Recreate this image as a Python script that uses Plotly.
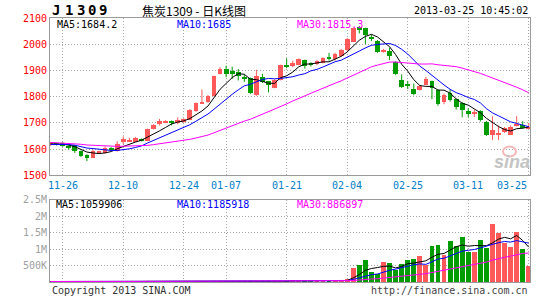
import plotly.graph_objects as go
import pandas as pd

# ---------------- data ----------------
dates = ["11-22","11-23","11-26","11-27","11-28","11-29","11-30",
         "12-03","12-04","12-05","12-06","12-07","12-10","12-11","12-12","12-13","12-14",
         "12-17","12-18","12-19","12-20","12-21","12-24","12-25","12-26","12-27","12-28","12-31",
         "01-04","01-07","01-08","01-09","01-10","01-11","01-14","01-15","01-16","01-17","01-18",
         "01-21","01-22","01-23","01-24","01-25","01-28","01-29","01-30","01-31","02-01",
         "02-04","02-05","02-06","02-07","02-08","02-18","02-19","02-20","02-21","02-22",
         "02-25","02-26","02-27","02-28","03-01",
         "03-04","03-05","03-06","03-07","03-08","03-11","03-12","03-13","03-14","03-15",
         "03-18","03-19","03-20","03-21","03-22","03-25"]

opens = [1615,1620,1624,1611,1614,1592,1578,1567,1588,1584, 1605,1593,1626,1629,1628,1638,1632,1677,1696,1702,
         1707,1700,1704,1712,1744,1776,1778,1803,1887,1905, 1897,1895,1876,1871,1808,1874,1858,1834,1864,1920,
         1920,1922,1939,1926,1925,1929,1950,1945,1954,1976, 2010,2065,2060,2029,2014,1972,1975,1931,1862,1847,
         1828,1825,1846,1859,1824,1781,1815,1790,1777,1745, 1736,1746,1705,1652,1655,1665,1655,1690,1692,1678]
highs = [1627,1622,1626,1614,1616,1594,1580,1597,1593,1610, 1607,1630,1648,1643,1646,1640,1678,1695,1715,1710,
         1709,1721,1717,1752,1778,1827,1806,1880,1912,1918, 1914,1905,1884,1873,1902,1887,1860,1866,1922,1946,
         1937,1946,1941,1931,1939,1950,1967,1967,1982,2023, 2063,2070,2063,2037,2016,1982,1987,1935,1885,1860,
         1850,1845,1875,1861,1826,1812,1827,1792,1779,1755, 1750,1748,1707,1725,1690,1684,1690,1725,1706,1700]
lows = [1612,1613,1608,1598,1585,1570,1554,1565,1586,1582, 1594,1590,1618,1627,1626,1629,1630,1675,1690,1700,
        1690,1694,1700,1710,1742,1774,1776,1801,1885,1874, 1868,1862,1856,1810,1803,1852,1816,1832,1862,1908,
        1912,1920,1907,1915,1920,1927,1937,1937,1952,1974, 2008,2041,2000,2012,1967,1968,1940,1883,1833,1829,
        1805,1823,1844,1790,1765,1771,1781,1750,1721,1721, 1722,1705,1650,1634,1634,1661,1653,1686,1678,1676]
closes = [1623,1616,1611,1603,1591,1572,1565,1594,1590,1605, 1597,1618,1638,1636,1643,1631,1675,1692,1706,1708,
          1699,1709,1714,1750,1775,1778,1803,1878,1905,1887, 1890,1878,1866,1812,1878,1856,1843,1864,1920,1914,
          1927,1944,1916,1921,1935,1947,1945,1962,1979,2020, 2060,2054,2035,2020,1969,1974,1954,1885,1835,1839,
          1810,1842,1869,1834,1771,1806,1787,1759,1750,1735, 1738,1711,1652,1671,1657,1680,1684,1696,1680,1682]
# closes before the first visible session (needed for the moving averages)
prior_closes = [1645,1650,1640,1632,1638,1645,1642,1635,1640,1628,
                1622,1618,1625,1630,1620,1612,1608,1615,1622,1618,
                1610,1605,1612,1620,1625,1618,1615,1620,1622]
volume_k = [15,12,18,20,25,22,28,20,15,18, 14,20,25,18,16,15,30,22,20,15,
            18,16,14,20,22,18,20,35,25,22, 20,18,16,30,28,20,25,30,22,45,
            55,30,25,20,50,35,30,25,45,100, 430,530,670,320,250,610,580,380,550,670,
            700,780,530,1090,1120,830,1240,1090,1360,930, 930,1280,1030,1780,1510,1200,1060,1540,1000,500]

tick_dates = ["11-26","12-10","12-24","01-07","01-21","02-04","02-25","03-11","03-25"]
price_ticks = [1500,1600,1700,1800,1900,2000,2100]
vol_tickvals = [500000,1000000,1500000,2000000,2500000]
vol_ticktext = ["500K","1M","1.5M","2M","2.5M"]

title_code = "J1309"
title_name = "焦炭1309 - 日K线图"
timestamp = "2013-03-25 10:45:02"
price_ma_text = ["MA5:1684.2", "MA10:1685", "MA30:1815.3"]
vol_ma_text = ["MA5:1059906", "MA10:1185918", "MA30:886897"]
footer_left = "Copyright 2013 SINA.COM"
footer_right = "http://finance.sina.com.cn"

# ---------------- styling ----------------
W, H = 545, 300
L, R, T, B = 50, 530, 18, 285
RED, GREEN = "#ff5959", "#009c00"
MA_COLORS = ["#000000", "#0000ff", "#ff00ff"]
GRID = "#a8a8a8"
FRAME = "#9a9a9a"
MONO = "DejaVu Sans Mono"

def pxx(x):
    return (x - L) / (R - L)

def pxy(y):
    return (B - y) / (B - T)

n = len(dates)
xs = list(range(n))
tick_idx = [dates.index(d) for d in tick_dates]

all_close = pd.Series(prior_closes + closes, dtype=float)
ma_price = [all_close.rolling(k).mean().iloc[len(prior_closes):].tolist() for k in (5, 10, 30)]
vols = pd.Series([v * 1000 for v in volume_k], dtype=float)
ma_vol = [vols.rolling(k, min_periods=1).mean().tolist() for k in (5, 10, 30)]

up = [c >= o for o, c in zip(opens, closes)]

fig = go.Figure()

# wicks
for flag, col in ((True, RED), (False, GREEN)):
    wx, wy = [], []
    for i in xs:
        if up[i] == flag:
            wx += [i, i, None]
            wy += [lows[i], highs[i], None]
    fig.add_trace(go.Scatter(x=wx, y=wy, mode="lines", line=dict(color=col, width=1),
                             hoverinfo="skip", showlegend=False))

# bodies
MINH = 3.8
for flag, col in ((True, RED), (False, GREEN)):
    bx, bb, bh = [], [], []
    for i in xs:
        if up[i] == flag:
            o, c = opens[i], closes[i]
            h = abs(c - o)
            base = min(o, c)
            if h < MINH:
                base = (o + c) / 2 - MINH / 2
                h = MINH
            bx.append(i); bb.append(base); bh.append(h)
    fig.add_trace(go.Bar(x=bx, y=bh, base=bb, marker=dict(color=col, line=dict(width=0)),
                         width=0.78, showlegend=False, hoverinfo="skip"))

# price moving averages
for ma, col in zip(ma_price, MA_COLORS):
    fig.add_trace(go.Scatter(x=xs, y=ma, mode="lines", line=dict(color=col, width=1),
                             showlegend=False, hoverinfo="skip"))

# volume bars
fig.add_trace(go.Bar(x=xs, y=vols, marker=dict(color=[RED if u else GREEN for u in up], line=dict(width=0)),
                     width=0.8, xaxis="x2", yaxis="y2", showlegend=False, hoverinfo="skip"))
for ma, col in zip(ma_vol, MA_COLORS):
    fig.add_trace(go.Scatter(x=xs, y=ma, mode="lines", line=dict(color=col, width=1),
                             xaxis="x2", yaxis="y2", showlegend=False, hoverinfo="skip"))

xr = [-0.1, 79.2]
axis_common = dict(showline=True, mirror=True, linecolor=FRAME, linewidth=1, zeroline=False,
                   showgrid=True, gridcolor=GRID, griddash="1px,2px", gridwidth=1, ticks="")
main_bottom = pxy(177)
vol_top = pxy(202)

fig.update_layout(
    width=W, height=H,
    margin=dict(l=L, r=W - R, t=T, b=H - B),
    paper_bgcolor="white", plot_bgcolor="white",
    barmode="overlay", bargap=0,
    xaxis=dict(domain=[0, 1], range=xr, anchor="y", tickvals=tick_idx, showticklabels=False, **axis_common),
    yaxis=dict(domain=[main_bottom, 1], range=[1500, 2100], tickvals=price_ticks,
               tickfont=dict(family=MONO, size=10, color="#ff0000"), **axis_common),
    xaxis2=dict(domain=[0, 1], range=xr, anchor="y2", matches="x", tickvals=tick_idx,
                showticklabels=False, **axis_common),
    yaxis2=dict(domain=[0, vol_top], range=[0, 2500000], tickvals=vol_tickvals, ticktext=vol_ticktext,
                tickfont=dict(family=MONO, size=10, color="#a0a0a0"), **axis_common),
    font=dict(family=MONO, size=10),
)

ann = []
# title code, character by character (wide spacing)
for ch, cx in zip(title_code, [55.5, 69, 81, 92, 103]):
    ann.append(dict(text="<b>" + ch + "</b>", x=pxx(cx), y=pxy(10), xref="paper", yref="paper",
                    xanchor="center", yanchor="middle", showarrow=False,
                    font=dict(family=MONO, size=14, color="#000000")))
ann.append(dict(text=title_name, x=pxx(140), y=pxy(10), xref="paper", yref="paper",
                xanchor="left", yanchor="middle", showarrow=False,
                font=dict(family="Noto Sans CJK SC", size=12, color="#000000")))
ann.append(dict(text=timestamp, x=pxx(530), y=pxy(10.5), xref="paper", yref="paper",
                xanchor="right", yanchor="middle", showarrow=False,
                font=dict(family=MONO, size=10, color="#000000")))
for t, cx, col in zip(price_ma_text, [55, 175, 295], MA_COLORS):
    ann.append(dict(text=t, x=pxx(cx), y=pxy(24.5), xref="paper", yref="paper",
                    xanchor="left", yanchor="middle", showarrow=False,
                    font=dict(family=MONO, size=10, color=col)))
for t, cx, col in zip(vol_ma_text, [54, 175, 295], MA_COLORS):
    ann.append(dict(text=t, x=pxx(cx), y=pxy(206.5), xref="paper", yref="paper",
                    xanchor="left", yanchor="middle", showarrow=False,
                    font=dict(family=MONO, size=10, color=col)))
# date labels
for d, i in zip(tick_dates, tick_idx):
    last = (i == tick_idx[-1])
    ann.append(dict(text=d, x=i, xref="x", y=pxy(187.5), yref="paper",
                    xanchor="right" if last else "center", yanchor="middle", showarrow=False,
                    font=dict(family=MONO, size=10, color="#0080c8")))
ann.append(dict(text=footer_left, x=pxx(50), y=pxy(293.5), xref="paper", yref="paper",
                xanchor="left", yanchor="middle", showarrow=False,
                font=dict(family=MONO, size=10, color="#333333")))
ann.append(dict(text=footer_right, x=pxx(530), y=pxy(293.5), xref="paper", yref="paper",
                xanchor="right", yanchor="middle", showarrow=False,
                font=dict(family=MONO, size=10, color="#444444")))
# sina watermark
ann.append(dict(text="<b><i>sina</i></b>", x=pxx(512), y=pxy(164), xref="paper", yref="paper",
                xanchor="center", yanchor="middle", showarrow=False,
                font=dict(family="Liberation Sans", size=18, color="#c4c4c4")))
fig.update_layout(annotations=ann)
fig.add_shape(type="circle", xref="paper", yref="paper",
              x0=pxx(503), x1=pxx(516), y0=pxy(158), y1=pxy(148),
              line=dict(color="#f4b8b8", width=2), fillcolor="rgba(0,0,0,0)")

fig.write_html("out.html")
